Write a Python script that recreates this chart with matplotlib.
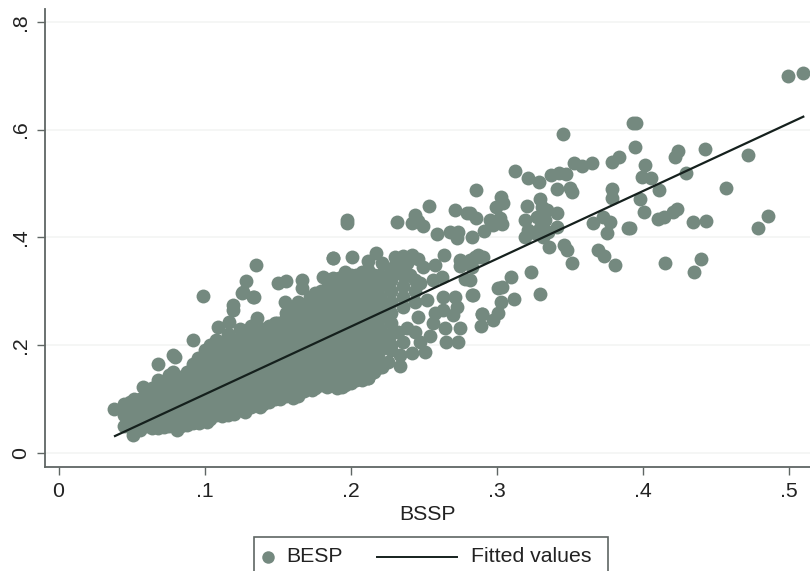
#!/usr/bin/python3

# scatter of BESP against BSSP with a fitted line, Stata style
import matplotlib

matplotlib.use('Agg')
import matplotlib.pyplot as plt
from matplotlib.lines import Line2D
from matplotlib.patches import Rectangle

# ticks
x_ticks = [0, 0.1, 0.2, 0.3, 0.4, 0.5]
x_tick_labels = ["0", ".1", ".2", ".3", ".4", ".5"]
y_ticks = [0, 0.2, 0.4, 0.6, 0.8]
y_tick_labels = ["0", ".2", ".4", ".6", ".8"]

# fitted line ends
fit_x = [0.0387, 0.5101]
fit_y = [0.031, 0.624]

# dense cloud, read column by column (BSSP, list of BESP)
cloud_columns = [
    (0.045, [.05, .07, .09]),
    (0.049, [.048, .062, .078, .095]),
    (0.052, [.04, .06, .08, .10]),
    (0.056, [.043, .06, .08, .10]),
    (0.060, [.05, .07, .09, .11]),
    (0.064, [.045, .06, .08, .10, .12]),
    (0.068, [.045, .06, .08, .10, .12, .135]),
    (0.072, [.048, .065, .085, .105, .125]),
    (0.076, [.05, .07, .09, .11, .13, .145]),
    (0.080, [.05, .065, .085, .105, .125]),
    (0.084, [.05, .06, .08, .10, .12, .14]),
    (0.088, [.052, .07, .09, .11, .13, .15]),
    (0.092, [.055, .07, .09, .11, .13, .15, .165]),
    (0.096, [.056, .075, .095, .115, .135, .155]),
    (0.100, [.06, .08, .10, .12, .14, .16, .18, .19]),
    (0.104, [.062, .08, .10, .12, .14, .16, .18, .20]),
    (0.108, [.07, .09, .11, .13, .15, .17, .19, .21]),
    (0.112, [.068, .085, .105, .125, .145, .165, .185, .205]),
    (0.116, [.07, .08, .10, .12, .14, .16, .18, .20, .22]),
    (0.120, [.072, .09, .11, .13, .15, .17, .19, .21]),
    (0.124, [.08, .09, .11, .13, .15, .17, .19, .21, .23]),
    (0.128, [.08, .095, .115, .135, .155, .175, .195, .215]),
    (0.132, [.085, .10, .12, .14, .16, .18, .20, .22, .235]),
    (0.136, [.09, .105, .125, .145, .165, .185, .205, .225]),
    (0.140, [.09, .11, .13, .15, .17, .19, .21, .23]),
    (0.144, [.095, .115, .135, .155, .175, .195, .215, .235]),
    (0.148, [.10, .12, .14, .16, .18, .20, .22, .24]),
    (0.152, [.10, .12, .14, .16, .18, .20, .22, .24]),
    (0.156, [.105, .13, .15, .17, .19, .21, .23, .25, .26]),
    (0.160, [.105, .125, .145, .165, .185, .205, .225, .245, .265]),
    (0.164, [.105, .12, .14, .16, .18, .20, .22, .24, .26, .28]),
    (0.168, [.115, .135, .155, .175, .195, .215, .235, .255, .275]),
    (0.172, [.12, .13, .15, .17, .19, .21, .23, .25, .27, .29]),
    (0.176, [.12, .14, .16, .18, .20, .22, .24, .26, .28]),
    (0.180, [.125, .14, .16, .18, .20, .22, .24, .26, .28, .30]),
    (0.184, [.125, .145, .165, .185, .205, .225, .245, .265, .285, .305]),
    (0.188, [.125, .15, .17, .19, .21, .23, .25, .27, .29, .31, .325]),
    (0.192, [.125, .145, .165, .185, .205, .225, .245, .265, .285, .305, .325]),
    (0.196, [.125, .14, .16, .18, .20, .22, .24, .26, .28, .30, .32, .335]),
    (0.200, [.13, .15, .17, .19, .21, .23, .25, .27, .29, .31, .33]),
    (0.204, [.135, .15, .17, .19, .21, .23, .25, .27, .29, .31, .33]),
    (0.208, [.135, .155, .175, .195, .215, .235, .255, .275, .295, .315, .335]),
    (0.212, [.14, .16, .18, .20, .22, .24, .26, .28, .30, .32, .34]),
    (0.216, [.15, .17, .19, .21, .23, .25, .27, .29, .31, .33]),
    (0.220, [.16, .17, .19, .21, .23, .25, .27, .29, .31, .33]),
    (0.228, [.19, .20, .22, .24, .26, .28, .30, .32, .34]),
    (0.236, [.205, .27, .29, .31, .33, .345]),
    (0.244, [.225, .28, .30, .32]),
]

# edge of the cloud, single readable points
edge_x = [.0382, .0512, .081, .1015, .1277, .138, .1608, .1734, .1837, .1939,
          .2122, .0581, .0684, .0786, .0923, .1095, .1197, .1266, .1334, .0992,
          .1353, .1284, .1255, .1339, .1197, .1505, .1558, .167, .167, .1551,
          .1597, .1814, .1878, .1757, .186, .117, .1358, .1495, .0958, .0798,
          .0784, .1974, .1974, .1882, .2008]
edge_y = [.0806, .0329, .0421, .0565, .075, .0855, .101, .1165, .1226, .1226,
          .138, .1226, .1642, .1815, .2093, .234, .2743, .2991, .2898, .291,
          .3486, .3195, .2972, .2898, .265, .3158, .3195, .3208, .3065, .2805,
          .2682, .3269, .361, .296, .3208, .2433, .2496, .2403, .1753, .1783,
          .1504, .4322, .4261, .361, .3641]

# middle part, x about 0.2 to 0.29
mid_x = [.2321, .2442, .2419, .2499, .2464, .2538, .259, .2682, .2716, .2796,
         .2738, .2727, .283, .2175, .2122, .2214, .264, .2579, .2305, .2362,
         .2419, .2464, .2499, .2305, .2385, .275, .275, .2818, .2875, .291,
         .2784, .283, .2899, .2894, .2625, .2716, .2727, .2704, .2647, .275,
         .2654, .2738, .2567, .2636, .2636, .2579, .2544, .251, .2419, .2339,
         .2339, .2476, .2385, .2464, .2327, .2259, .2259, .2214, .2122, .2053,
         .1974, .1905, .2522, .2476, .2565, .2248, .2316, .2408]
mid_y = [.429, .4415, .4261, .4211, .4309, .4588, .4056, .4105, .4508, .4446,
         .4105, .3982, .40, .3715, .3561, .3518, .3672, .3486, .3641, .3653,
         .3672, .3592, .3455, .3486, .3518, .3579, .3468, .3579, .3672, .3641,
         .3221, .2929, .257, .2353, .3258, .2898, .2712, .2558, .2311, .2311,
         .2062, .2062, .2403, .265, .2898, .2589, .2167, .1876, .1846, .1815,
         .1616, .2062, .2311, .2526, .2247, .2186, .169, .1597, .1382, .1412,
         .1289, .1196, .2836, .3152, .3207, .3146, .3362, .33]

# upper part, x about 0.28 to 0.39
upper_x = [.3453, .3127, .3214, .3293, .3373, .343, .3476, .3531, .3584, .3652,
           .3789, .3841, .3412, .3503, .3515, .3789, .3789, .2857, .3029, .3047,
           .2997, .2818, .286, .2955, .3024, .3036, .2978, .2914, .3207, .3298,
           .3309, .3344, .3417, .3195, .3275, .3332, .3218, .3195, .3298, .3264,
           .3355, .3412, .332, .3362, .3462, .3481, .3519, .3663, .3732, .3777,
           .3755, .3899, .3693, .3739, .3812, .3236, .3298, .3097, .3013, .3036,
           .312, .3029, .2899, .3013, .2978, .2837, .2818, .2853, .2887, .283]
upper_y = [.5913, .5238, .5096, .5033, .5158, .52, .5176, .5386, .5325, .5376,
           .5405, .5498, .4898, .4911, .4848, .4892, .4725, .488, .4744, .4644,
           .4558, .4446, .4354, .4322, .4354, .4248, .4229, .4123, .4582, .4707,
           .457, .4508, .4446, .4322, .4383, .4322, .4136, .4012, .4167, .4074,
           .4105, .4186, .4012, .3815, .3858, .3765, .3529, .4272, .4372, .429,
           .4086, .4168, .3765, .3653, .3486, .3362, .2942, .3269, .3053, .3083,
           .2849, .2805, .2576, .2589, .2465, .2929, .3208, .3641, .3641, .3455]

# right side, the sparse points
right_x = [.4999, .5101, .3955, .3933, .3949, .4017, .3995, .4056, .4113, .3983,
           .401, .4108, .415, .4211, .4234, .3914, .4348, .4435, .4245, .4223,
           .443, .4301, .472, .4572, .4858, .4789, .44, .4355, .4152]
right_y = [.6997, .7047, .6118, .612, .5684, .5344, .5126, .5097, .488, .4712,
           .4477, .4335, .4372, .4476, .452, .4167, .429, .431, .561, .5498,
           .5635, .5189, .553, .491, .4396, .4168, .3598, .3362, .3517]

MARKER_COLOR = "#74897f"
TICK_COLOR = "#5f6664"
TEXT_COLOR = "#222222"
FONT_SIZE = 15.3
WIDTH = 810
HEIGHT = 571


def fx(px):
    # legend sits outside the axes, so place it in pixels of the figure
    return px / WIDTH


def fy(py):
    return 1 - py / HEIGHT


def main():
    plt.rcParams['font.family'] = ['Liberation Sans', 'DejaVu Sans']

    fig = plt.figure(figsize=(8.1, 5.71), dpi=100)
    ax = fig.add_axes([45 / WIDTH, (HEIGHT - 466.7) / HEIGHT, 765 / WIDTH, 457.7 / HEIGHT])

    # put all the groups together
    besp_x = edge_x + mid_x + upper_x + right_x
    besp_y = edge_y + mid_y + upper_y + right_y
    for col_x, col_y in cloud_columns:
        besp_x = besp_x + [col_x] * len(col_y)
        besp_y = besp_y + col_y

    ax.scatter(besp_x, besp_y, s=100, color=MARKER_COLOR, linewidths=0, zorder=3)
    ax.plot(fit_x, fit_y, color="#15201d", linewidth=1.6, zorder=4)

    ax.set_xlim(-0.00925, 0.5147)
    ax.set_ylim(-0.026, 0.824)

    ax.set_xticks(x_ticks)
    ax.set_xticklabels(x_tick_labels)
    ax.set_yticks(y_ticks)
    ax.set_yticklabels(y_tick_labels, rotation=90, va="center")
    ax.tick_params(axis="both", length=6, width=1.0, color=TICK_COLOR,
                   labelsize=FONT_SIZE, labelcolor=TEXT_COLOR, pad=5)
    ax.set_xlabel("BSSP", fontsize=FONT_SIZE, color=TEXT_COLOR, labelpad=3)

    # only the horizontal grid, very faint
    ax.grid(axis="y", color="#f3f5f4", linewidth=1.2, zorder=0)
    ax.set_axisbelow(True)

    ax.spines["top"].set_visible(False)
    ax.spines["right"].set_visible(False)
    ax.spines["left"].set_color(TICK_COLOR)
    ax.spines["bottom"].set_color(TICK_COLOR)
    ax.spines["left"].set_linewidth(1.3)
    ax.spines["bottom"].set_linewidth(1.3)

    # legend box runs off the bottom of the picture like in the original
    fig.add_artist(Rectangle((fx(254), fy(585)), (608 - 254) / WIDTH, (585 - 537) / HEIGHT,
                             transform=fig.transFigure, facecolor="white",
                             edgecolor=TICK_COLOR, linewidth=1.2))
    fig.add_artist(Line2D([fx(268)], [fy(556.5)], transform=fig.transFigure, marker="o",
                          markersize=9, color=MARKER_COLOR, markeredgewidth=0, linestyle="none"))
    fig.text(fx(286), fy(557), "BESP", fontsize=FONT_SIZE, color=TEXT_COLOR, va="center")
    fig.add_artist(Line2D([fx(377), fx(457)], [fy(556.5), fy(556.5)], transform=fig.transFigure,
                          color="#15201d", linewidth=1.4))
    fig.text(fx(471), fy(557), "Fitted values", fontsize=FONT_SIZE, color=TEXT_COLOR, va="center")

    plt.savefig("out.png", dpi=100)


if __name__ == "__main__":
    main()
